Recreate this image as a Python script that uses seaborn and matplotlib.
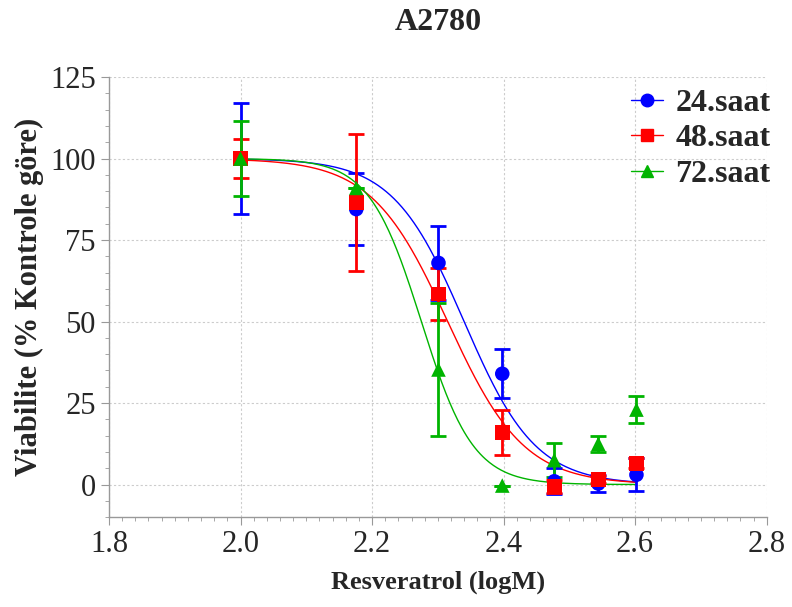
import matplotlib
matplotlib.use("Agg")
import matplotlib.pyplot as plt
from matplotlib.lines import Line2D
from matplotlib.ticker import MultipleLocator
import numpy as np
import pandas as pd
import seaborn as sns

# doses (log) and measured viability
log_dose = [2.0, 2.176, 2.301, 2.398, 2.477, 2.544, 2.602]
v24 = [100, 84.5, 68, 34, 1, 0.3, 3]
e24 = [17, 11, 11.3, 7.5, 4, 2.5, 5]
v48 = [100, 86.5, 58.5, 16, -0.5, 1.5, 6.5]
e48 = [6, 21, 8, 7, 2, 1, 1.5]
v72 = [100, 91, 35.3, -0.3, 7.5, 12.5, 23]
e72 = [11.5, 0, 20.5, 0, 5.3, 2.5, 4.2]

# fitted dose-response parameters (logIC50, hill slope)
fit24 = (2.34, 8.0)
fit48 = (2.315, 7.5)
fit72 = (2.275, 11.0)

labels = ["24.saat", "48.saat", "72.saat"]
colors = ["#0000ff", "#ff0000", "#00b400"]
markers = ["o", "s", "^"]

sns.set_style("white")
plt.rcParams["font.family"] = ["Liberation Serif", "DejaVu Serif"]

fig = plt.figure(figsize=(7.92, 6.07), dpi=100)
ax = fig.add_axes([0.1376, 0.148, 0.8304, 0.725])

xfit = np.linspace(2.0, 2.602, 300)
series = [(v24, e24, fit24), (v48, e48, fit48), (v72, e72, fit72)]
for (vals, errs, (c, h)), lab, col, mk in zip(series, labels, colors, markers):
    yfit = 100 / (1 + 10 ** ((xfit - c) * h))
    sns.lineplot(x=xfit, y=yfit, color=col, lw=1, ax=ax)
    ax.errorbar(log_dose, vals, yerr=errs, fmt="none", ecolor=col,
                elinewidth=2, capsize=6, capthick=2, zorder=3)
    df = pd.DataFrame({"x": log_dose, "y": vals})
    sns.scatterplot(data=df, x="x", y="y", color=col, marker=mk, s=110,
                    edgecolor="none", ax=ax, zorder=4)

ax.set_xlim(1.8, 2.8)
ax.set_ylim(-10, 125)
ax.xaxis.set_major_locator(MultipleLocator(0.2))
ax.xaxis.set_minor_locator(MultipleLocator(0.02))
ax.yaxis.set_major_locator(MultipleLocator(25))
ax.yaxis.set_minor_locator(MultipleLocator(5))
ax.set_xticklabels([f"{t:.1f}" for t in ax.get_xticks()])
ax.grid(True, which="major", color="#cccccc", linestyle=(0, (2, 2)), lw=0.8)

for s in ["top", "right"]:
    ax.spines[s].set_visible(False)
for s in ["left", "bottom"]:
    ax.spines[s].set_color("#999999")
    ax.spines[s].set_linewidth(1)
ax.tick_params(which="major", direction="out", length=6, color="#999999",
               labelsize=22, bottom=True, left=True)
ax.tick_params(which="minor", direction="out", length=3, color="#999999",
               bottom=True, left=True)

ax.set_xlabel("Resveratrol (logM)", fontsize=19, fontweight="bold",
              labelpad=8)
ax.set_ylabel("Viabilite (% Kontrole göre)", fontsize=22, fontweight="bold",
              labelpad=4)
fig.text(0.553, 0.963, "A2780", ha="center", va="center", fontsize=23,
         fontweight="bold")

handles = [Line2D([0], [0], color=col, marker=mk, markersize=9, lw=1)
           for col, mk in zip(colors, markers)]
ax.legend(handles, labels, loc="upper right", bbox_to_anchor=(1.035, 1.018),
          frameon=False, prop={"size": 23, "weight": "bold"},
          handlelength=1.0, handletextpad=0.4, labelspacing=0.2,
          borderaxespad=0.2)

fig.savefig("out.png", dpi=100)
